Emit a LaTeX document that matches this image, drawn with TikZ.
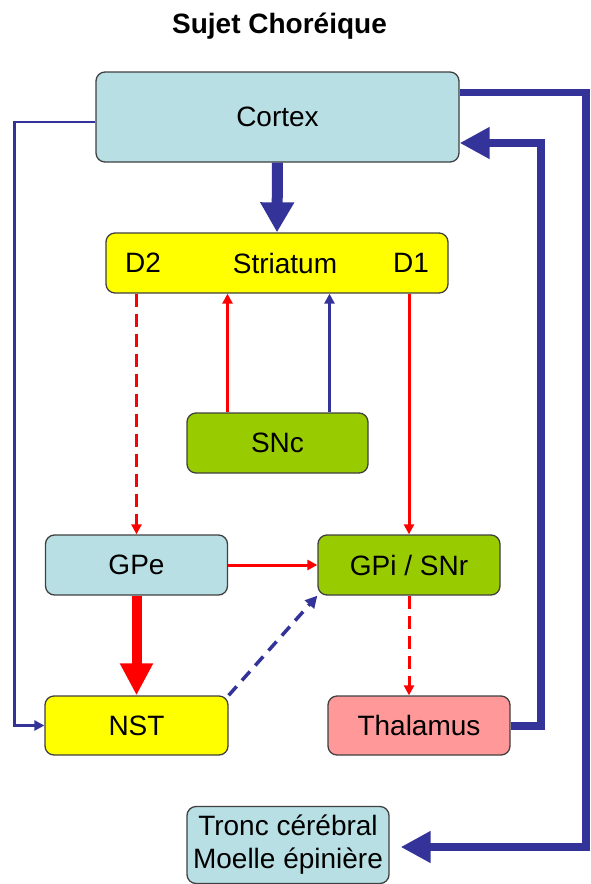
\documentclass[tikz,border=0pt]{standalone}
\usepackage{fontspec}
\setmainfont{Liberation Sans}
\usetikzlibrary{arrows.meta}
\definecolor{boxcyan}{RGB}{184,223,228}
\definecolor{boxgreen}{RGB}{153,204,0}
\definecolor{boxyellow}{RGB}{255,255,0}
\definecolor{boxpink}{RGB}{255,153,153}
\definecolor{linkblue}{RGB}{51,51,153}
\definecolor{linkred}{RGB}{255,0,0}
\definecolor{edgegray}{RGB}{64,64,64}
\tikzset{
  brainbox/.style={draw=edgegray, line width=1.3pt, rounded corners=9pt, inner sep=0pt,
    font=\fontsize{28}{33}\selectfont, align=center},
  txt/.style={inner sep=0pt, font=\fontsize{28}{33}\selectfont},
  smalltip/.style={-{Triangle[length=10pt,width=10pt]}},
  redlink/.style={smalltip, draw=linkred, line width=3pt},
  reddash/.style={redlink, dash pattern=on 13pt off 7pt},
  bluelink/.style={smalltip, draw=linkblue, line width=2.6pt},
  bluedash/.style={-{Triangle[length=12pt,width=12pt]}, draw=linkblue, line width=3.5pt, dash pattern=on 12pt off 8pt},
  bigblue/.style={-{Triangle[length=30pt,width=30pt]}, draw=linkblue, line width=8pt},
  bigred/.style={-{Triangle[length=32pt,width=31pt]}, draw=linkred, line width=10pt},
}
\begin{document}
\begin{tikzpicture}[x=1pt,y=-1pt]
\useasboundingbox (0,0) rectangle (591,884);
\node[font=\bfseries\fontsize{28}{33}\selectfont, anchor=base, inner sep=0pt] (title) at (279.5,33) {Sujet Choréique};
\node[brainbox, fill=boxcyan, minimum width=363pt, minimum height=90pt] (cortex) at (277.5,117) {Cortex};
\node[brainbox, fill=boxyellow, minimum width=342pt, minimum height=60pt] (striatum) at (277,263) {};
\node[txt] (d2) at (143,263) {D2};
\node[txt] (stxt) at (285,263) {Striatum};
\node[txt] (d1) at (411,263) {D1};
\node[brainbox, fill=boxgreen, minimum width=181pt, minimum height=60pt] (snc) at (277.5,443) {SNc};
\node[brainbox, fill=boxcyan, minimum width=182pt, minimum height=60pt] (gpe) at (136.5,565) {GPe};
\node[brainbox, fill=boxgreen, minimum width=182pt, minimum height=60pt] (gpi) at (409,565) {GPi / SNr};
\node[brainbox, fill=boxyellow, minimum width=183pt, minimum height=59pt] (nst) at (136.5,725.5) {NST};
\node[brainbox, fill=boxpink, minimum width=182pt, minimum height=59pt] (thal) at (419,725.5) {Thalamus};
\node[brainbox, fill=boxcyan, minimum width=202pt, minimum height=77pt] (tronc) at (288,845) {Tronc cérébral\\Moelle épinière};
% connectors
\draw[-{Triangle[length=30pt,width=32pt]}, draw=linkblue, line width=11pt] (cortex.south) -- (striatum.north);
\draw[bluelink] ([yshift=-5pt]cortex.west) -- ++(-81,0) |- (nst.west);
\coordinate (tcup) at (541,143);
\draw[bigblue] (thal.east) -| (tcup) -- (cortex.east |- tcup);
\coordinate (ctr) at (586,92.5);
\coordinate (ctd) at (586,847);
\draw[bigblue, line width=7.5pt, shorten >=11pt] (cortex.east |- ctr) -- (ctr) -- (ctd) -- (tronc.east |- ctd);
\draw[reddash] (gpe.north |- striatum.south) -- (gpe.north);
\draw[redlink] ([xshift=-50pt]snc.north) -- ([xshift=-50pt]snc.north |- striatum.south);
\draw[bluelink] ([xshift=52pt]snc.north) -- ([xshift=52pt]snc.north |- striatum.south);
\draw[redlink] (gpi.north |- striatum.south) -- (gpi.north);
\draw[redlink] (gpe.east) -- (gpi.west);
\draw[bigred] (gpe.south) -- (nst.north);
\draw[bluedash] (nst.north east) -- (gpi.south west);
\draw[reddash] (gpi.south) -- (gpi.south |- thal.north);
\end{tikzpicture}
\end{document}
